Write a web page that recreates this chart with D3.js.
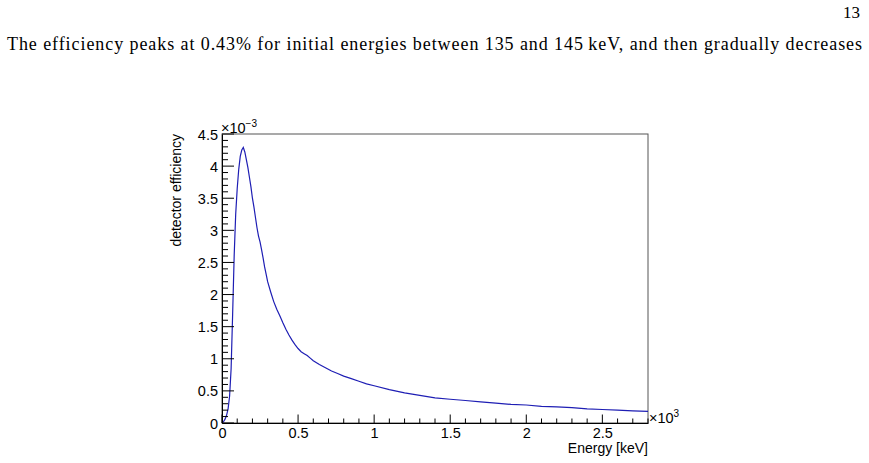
<!DOCTYPE html>
<html>
<head>
<meta charset="utf-8">
<script src="https://cdn.jsdelivr.net/npm/d3@7"></script>
<style>
  html, body { margin: 0; padding: 0; background: #fff; }
  svg { display: block; }
</style>
</head>
<body>
<svg id="chart" width="869" height="463"></svg>
<script>
// Energy in keV, efficiency in units of 10^-3
const energies = [0, 10, 20, 30, 40, 50, 60, 70, 80, 90, 100, 110, 120, 130, 140, 150, 160, 170, 180, 190,
  200, 210, 220, 230, 240, 250, 260, 270, 280, 290, 300, 320, 340, 360, 380, 400, 420, 440, 460, 480,
  500, 520, 540, 560, 580, 600, 640, 680, 720, 760, 800, 850, 900, 950, 1000, 1100, 1200, 1300, 1400, 1500,
  1600, 1700, 1800, 1900, 2000, 2100, 2200, 2300, 2400, 2500, 2600, 2700, 2800];
const efficiency = [0, 0.02, 0.06, 0.12, 0.22, 0.42, 0.85, 1.70, 2.60, 3.25, 3.65, 3.95, 4.15, 4.25, 4.29, 4.22, 4.10, 3.98, 3.83, 3.68,
  3.50, 3.36, 3.20, 3.04, 2.91, 2.82, 2.70, 2.57, 2.43, 2.32, 2.20, 2.04, 1.89, 1.77, 1.67, 1.56, 1.46, 1.37, 1.29, 1.22,
  1.16, 1.11, 1.08, 1.05, 1.01, 0.97, 0.91, 0.86, 0.81, 0.77, 0.73, 0.69, 0.65, 0.61, 0.58, 0.52, 0.47, 0.43, 0.39, 0.37,
  0.35, 0.33, 0.31, 0.29, 0.28, 0.26, 0.25, 0.24, 0.22, 0.21, 0.20, 0.19, 0.18];
const xTickLabels = ["0", "0.5", "1", "1.5", "2", "2.5"];
const yTickLabels = ["0", "0.5", "1", "1.5", "2", "2.5", "3", "3.5", "4", "4.5"];
const pageNumber = "13";
const sentence = "The efficiency peaks at 0.43% for initial energies between 135 and 145\u2009keV, and then gradually decreases";

const svg = d3.select("#chart");
const L = 222, R = 648, T = 134, B = 423;
const x = d3.scaleLinear().domain([0, 2800]).range([L, R]);
const y = d3.scaleLinear().domain([0, 4.5]).range([B, T]);
const sans = "'Liberation Sans', Arial, Helvetica, sans-serif";
const serif = "'Liberation Serif', 'Times New Roman', serif";

// page text
svg.append("text").attr("x", 860).attr("y", 18).attr("text-anchor", "end")
  .attr("font-family", serif).attr("font-size", 17).text(pageNumber);
svg.append("text").attr("x", 7).attr("y", 50)
  .attr("font-family", serif).attr("font-size", 18)
  .attr("textLength", 855).attr("lengthAdjust", "spacing").text(sentence);

// frame
svg.append("rect").attr("x", L).attr("y", T).attr("width", R - L).attr("height", B - T)
  .attr("fill", "none").attr("stroke", "#555").attr("stroke-width", 1);

// data curve
const pts = energies.map((e, i) => [e, efficiency[i]]);
svg.append("path").datum(pts)
  .attr("fill", "none").attr("stroke", "#1e1eb4").attr("stroke-width", 1.2)
  .attr("d", d3.line().x(d => x(d[0])).y(d => y(d[1])));

// X axis
const xMajor = xTickLabels.map(s => +s * 1000);
const xMinor = d3.range(0, 2801, 100).filter(v => v % 500 !== 0);
const xAxis = d3.axisBottom(x).tickValues(xMajor).tickSize(0).tickFormat((d, i) => xTickLabels[i]);
const gx = svg.append("g").attr("transform", `translate(0,${B})`).call(xAxis);
gx.select(".domain").attr("stroke", "#000");
gx.selectAll("text").attr("font-family", sans).attr("font-size", 14.5).attr("fill", "#000")
  .attr("dy", null).attr("y", 15);
svg.append("g").selectAll("line").data(xMajor).join("line")
  .attr("x1", d => x(d)).attr("x2", d => x(d)).attr("y1", B).attr("y2", B - 8.5)
  .attr("stroke", "#000");
svg.append("g").selectAll("line").data(xMinor).join("line")
  .attr("x1", d => x(d)).attr("x2", d => x(d)).attr("y1", B).attr("y2", B - 4.5)
  .attr("stroke", "#000");

// Y axis
const yMajor = yTickLabels.map(s => +s);
const yMinor = d3.range(0, 46).map(v => v / 10).filter(v => Math.round(v * 10) % 5 !== 0);
const yAxis = d3.axisLeft(y).tickValues(yMajor).tickSize(0).tickFormat((d, i) => yTickLabels[i]);
const gy = svg.append("g").attr("transform", `translate(${L},0)`).call(yAxis);
gy.select(".domain").attr("stroke", "#000");
gy.selectAll("text").attr("font-family", sans).attr("font-size", 14.5).attr("fill", "#000")
  .attr("dy", null).attr("x", -4).attr("y", 5);
svg.append("g").selectAll("line").data(yMajor).join("line")
  .attr("y1", d => y(d)).attr("y2", d => y(d)).attr("x1", L).attr("x2", L + 12)
  .attr("stroke", "#000");
svg.append("g").selectAll("line").data(yMinor).join("line")
  .attr("y1", d => y(d)).attr("y2", d => y(d)).attr("x1", L).attr("x2", L + 6)
  .attr("stroke", "#000");

// exponent labels
const ex = svg.append("text").attr("x", 221).attr("y", 132.5)
  .attr("font-family", sans).attr("font-size", 14.5);
ex.append("tspan").text("\u00d710");
ex.append("tspan").attr("font-size", 10).attr("dy", -6).text("\u22123");

const ex2 = svg.append("text").attr("x", 649).attr("y", 423)
  .attr("font-family", sans).attr("font-size", 14.5);
ex2.append("tspan").text("\u00d710");
ex2.append("tspan").attr("font-size", 10).attr("dy", -6).text("3");

// axis titles
svg.append("text").attr("x", R).attr("y", 453).attr("text-anchor", "end")
  .attr("font-family", sans).attr("font-size", 14).text("Energy [keV]");
svg.append("text").attr("transform", `translate(180.5,${T}) rotate(-90)`)
  .attr("text-anchor", "end").attr("font-family", sans).attr("font-size", 14)
  .text("detector efficiency");
</script>
</body>
</html>
